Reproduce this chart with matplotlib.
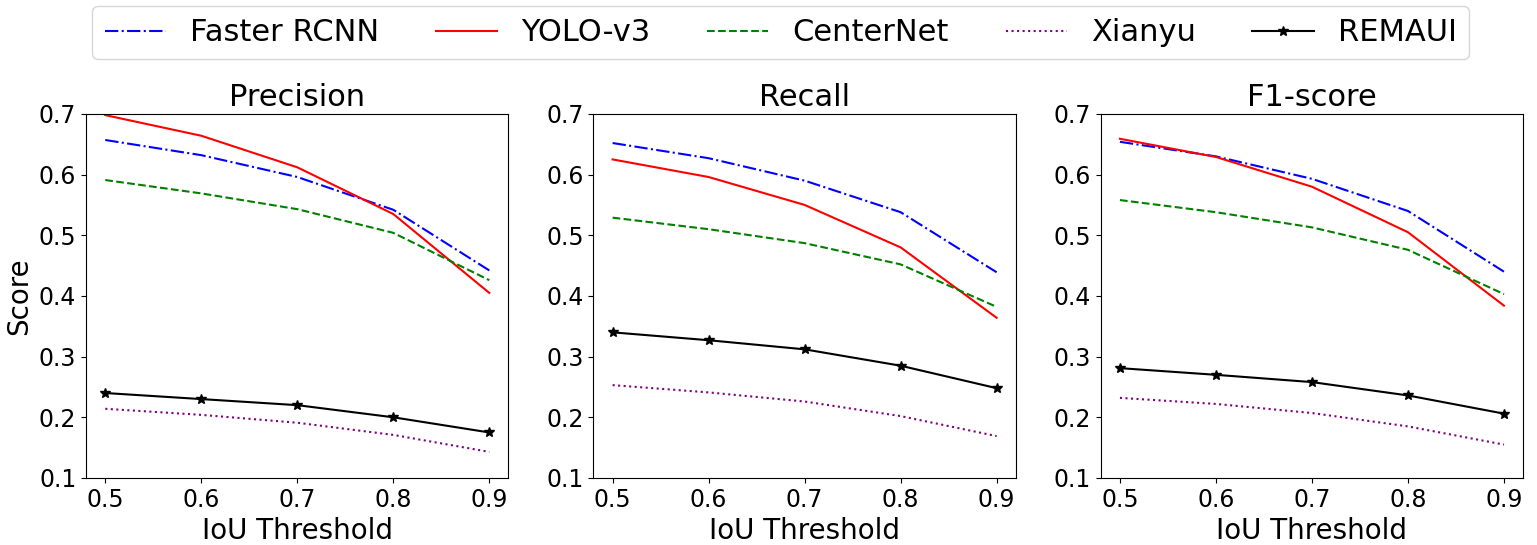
import matplotlib
matplotlib.use("Agg")
import matplotlib.pyplot as plt


iou = [0.5, 0.6, 0.7, 0.8, 0.9]

# precision
prec_faster = [0.657, 0.632, 0.596, 0.542, 0.442]
prec_yolo = [0.698, 0.664, 0.612, 0.535, 0.405]
prec_center = [0.591, 0.569, 0.543, 0.504, 0.426]
prec_xianyu = [0.214, 0.204, 0.191, 0.171, 0.143]
prec_remaui = [0.240, 0.230, 0.220, 0.200, 0.175]

# recall
rec_faster = [0.652, 0.627, 0.590, 0.538, 0.439]
rec_yolo = [0.625, 0.596, 0.550, 0.480, 0.364]
rec_center = [0.529, 0.510, 0.487, 0.452, 0.382]
rec_xianyu = [0.253, 0.241, 0.226, 0.202, 0.169]
rec_remaui = [0.340, 0.327, 0.312, 0.285, 0.248]

# f1
f1_faster = [0.654, 0.630, 0.593, 0.540, 0.440]
f1_yolo = [0.659, 0.629, 0.580, 0.505, 0.384]
f1_center = [0.558, 0.538, 0.513, 0.476, 0.403]
f1_xianyu = [0.232, 0.222, 0.207, 0.185, 0.155]
f1_remaui = [0.281, 0.270, 0.258, 0.236, 0.206]

titles = ["Precision", "Recall", "F1-score"]
yticks = [0.1, 0.2, 0.3, 0.4, 0.5, 0.6, 0.7]

panels = [
    (prec_faster, prec_yolo, prec_center, prec_xianyu, prec_remaui),
    (rec_faster, rec_yolo, rec_center, rec_xianyu, rec_remaui),
    (f1_faster, f1_yolo, f1_center, f1_xianyu, f1_remaui),
]

fig, axes = plt.subplots(1, 3, figsize=(15.37, 5.45), dpi=100)
fig.subplots_adjust(left=0.056, right=0.991, top=0.791, bottom=0.123, wspace=0.201)

for k, ax in enumerate(axes):
    faster, yolo, center, xianyu, remaui = panels[k]
    ax.plot(iou, faster, "b-.", label="Faster RCNN")
    ax.plot(iou, yolo, "r-", label="YOLO-v3")
    ax.plot(iou, center, "g--", label="CenterNet")
    ax.plot(iou, xianyu, color="purple", linestyle=":", label="Xianyu")
    ax.plot(iou, remaui, "k-*", markersize=7, label="REMAUI")
    ax.set_ylim(0.1, 0.7)
    ax.set_yticks(yticks)
    ax.set_xticks(iou)
    ax.tick_params(labelsize=17)
    ax.set_title(titles[k], fontsize=22)
    ax.set_xlabel("IoU Threshold", fontsize=20)

axes[0].set_ylabel("Score", fontsize=20)

handles, labels = axes[0].get_legend_handles_labels()
fig.legend(handles, labels, loc="upper center", ncol=5, fontsize=22,
           bbox_to_anchor=(0.508, 0.989), borderaxespad=0,
           columnspacing=1.85)

plt.savefig("out.png", dpi=100)
